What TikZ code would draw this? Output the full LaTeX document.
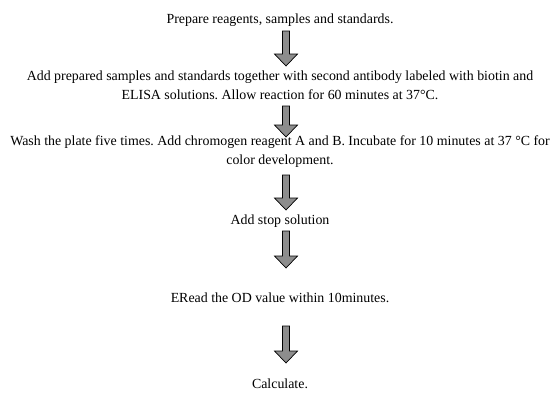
\documentclass[tikz,border=0pt]{standalone}
\usepackage{fontspec}
\setmainfont{Liberation Serif}
\usetikzlibrary{calc}
\frenchspacing
\tikzset{
  stepText/.style={align=center, inner sep=0pt, font=\fontsize{13.9}{19}\selectfont, text=black},
  blockArr/.style={draw=black, line width=0.7pt, fill=gray!95!black!85, line join=miter},
}
\newcommand{\blockarrow}[2]{%
  \fill[blockArr] ($(#1)+(-3.5,0)$) -- ($(#2)+(-3.5,-12)$) -- ($(#2)+(-11.5,-12)$) -- (#2)
   -- ($(#2)+(11.5,-12)$) -- ($(#2)+(3.5,-12)$) -- ($(#1)+(3.5,0)$) -- cycle;}
\begin{document}
\begin{tikzpicture}[x=1pt,y=-1pt]
\useasboundingbox[fill=white] (0,0) rectangle (552,394);
\node[stepText] (s1) at (280,20) {Prepare reagents, samples and standards.};
\node[stepText] (s2) at (280,85) {Add prepared samples and standards together with second antibody labeled with biotin and\\ELISA solutions. Allow reaction for 60 minutes at 37\textdegree C.};
\node[stepText] (s3) at (280,151.5) {Wash the plate five times. Add chromogen reagent A and B. Incubate for 10 minutes at 37 \textdegree C for\\color development.};
\node[stepText] (s4) at (280,221) {Add stop solution};
\node[stepText] (s5) at (280,298) {ERead the OD value within 10minutes.};
\node[stepText] (s6) at (280,384) {Calculate.};
\coordinate (a1s) at (286,31);  \coordinate (a1e) at (286,66);
\coordinate (a2s) at (286,106); \coordinate (a2e) at (286,137);
\coordinate (a3s) at (286,175); \coordinate (a3e) at (286,210);
\coordinate (a4s) at (286,231); \coordinate (a4e) at (286,268);
\coordinate (a5s) at (286,326); \coordinate (a5e) at (286,363);
\blockarrow{a1s}{a1e}
\blockarrow{a2s}{a2e}
\blockarrow{a3s}{a3e}
\blockarrow{a4s}{a4e}
\blockarrow{a5s}{a5e}
\end{tikzpicture}
\end{document}
